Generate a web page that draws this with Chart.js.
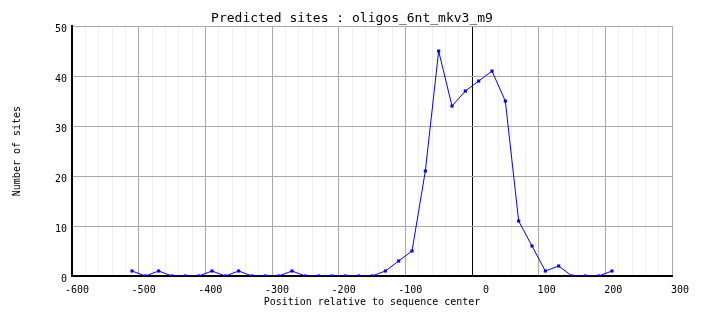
<!DOCTYPE html>
<html>
<head>
<meta charset="utf-8">
<script src="https://cdn.jsdelivr.net/npm/chart.js@4/dist/chart.umd.min.js"></script>
<style>
  html, body { margin: 0; padding: 0; background: #fff; }
  canvas { display: block; }
</style>
</head>
<body>
<canvas id="sites" width="704" height="328"></canvas>
<script>
const positions = [-510, -490, -470, -450, -430, -410, -390, -370, -350, -330, -310, -290,
  -270, -250, -230, -210, -190, -170, -150, -130, -110, -90, -70, -50, -30, -10,
  10, 30, 50, 70, 90, 110, 130, 150, 170, 190, 210];
const counts = [1, 0, 1, 0, 0, 0, 1, 0, 1, 0, 0, 0,
  1, 0, 0, 0, 0, 0, 0, 1, 3, 5, 21, 45, 34, 37,
  39, 41, 35, 11, 6, 1, 2, 0, 0, 0, 1];
const xRange = [-600, 300];
const yRange = [0, 50];

const mono = "'DejaVu Sans Mono', 'Liberation Mono', monospace";

let sites = document.getElementById("sites");

new Chart(sites, {
  type: 'line',
  data: {
    datasets: [{
      label: 'Predicted sites',
      data: positions.map((p, i) => ({x: p, y: counts[i]})),
      borderColor: '#0000ff',
      backgroundColor: '#0000ff',
      borderWidth: 1,
      pointStyle: 'rect',
      pointRadius: 2.2,
      pointBorderWidth: 0,
      tension: 0,
      fill: false,
      xAxisID: 'x',
      yAxisID: 'y',
    }]
  },
  options: {
    animation: false,
    responsive: false,
    maintainAspectRatio: false,
    layout: {
      // symmetric side padding so the title is centred on the canvas
      padding: {left: 32, right: 32, top: 0, bottom: 0}
    },
    plugins: {
      legend: { display: false },
      tooltip: { enabled: false },
      title: {
        display: true,
        text: 'Predicted sites : oligos_6nt_mkv3_m9',
        color: '#000',
        font: { family: mono, size: 13, weight: 'normal' },
        padding: { top: 10.5, bottom: 0 },
      }
    },
    scales: {
      x: {
        type: 'linear',
        position: 'bottom',
        min: xRange[0],
        max: xRange[1],
        afterFit: function(scale){ scale.height = 52; },
        ticks: {
          stepSize: 100,
          align: 'end',
          labelOffset: 17,
          padding: 8,
          color: '#000',
          font: { family: mono, size: 10 },
        },
        grid: {
          drawTicks: false,
          color: function(ctx){
            return ctx.tick && ctx.tick.value === 0 ? '#000' : '#aaaaaa';
          },
          lineWidth: 1,
        },
        border: { display: true, color: '#000', width: 2 },
        title: {
          display: true,
          text: 'Position relative to sequence center',
          color: '#000',
          font: { family: mono, size: 10 },
          padding: { top: 0, bottom: 19.5 },
        }
      },
      xMinor: {
        type: 'linear',
        position: 'bottom',
        min: xRange[0],
        max: xRange[1],
        weight: -1,
        afterFit: function(scale){ scale.height = 0; },
        ticks: { display: false, stepSize: 20 },
        grid: {
          drawTicks: false,
          color: function(ctx){
            return ctx.tick && ctx.tick.value % 100 === 0 ? 'rgba(0,0,0,0)' : '#eeeeee';
          },
        },
        border: { display: false },
      },
      y: {
        type: 'linear',
        position: 'left',
        min: yRange[0],
        max: yRange[1],
        afterFit: function(scale){ scale.width = 40; },
        ticks: {
          stepSize: 10,
          padding: 5,
          labelOffset: 3,
          color: '#000',
          font: { family: mono, size: 10 },
        },
        grid: {
          drawTicks: false,
          color: '#aaaaaa',
          lineWidth: 1,
        },
        border: { display: true, color: '#000', width: 2 },
        title: {
          display: true,
          text: 'Number of sites',
          color: '#000',
          font: { family: mono, size: 10 },
          padding: { top: -21, bottom: 0 },
        }
      }
    }
  }
});
</script>
</body>
</html>
